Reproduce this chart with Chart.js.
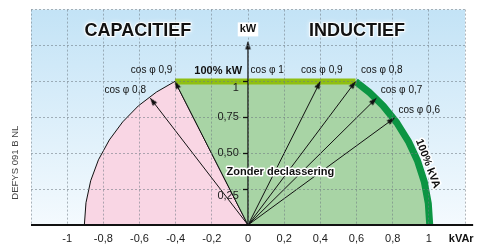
<!DOCTYPE html>
<html><head><meta charset="utf-8">
<script src="https://cdn.jsdelivr.net/npm/chart.js@4/dist/chart.umd.min.js"></script>
<style>html,body{margin:0;padding:0;background:#fff}#wrap{width:479px;height:244px}</style>
</head><body><div id="wrap"><canvas id="c" width="479" height="244"></canvas></div>
<script>
// ---------- data ----------
const kvarTicks = [-1, -0.8, -0.6, -0.4, -0.2, 0, 0.2, 0.4, 0.6, 0.8, 1];
const kvarTickLabels = ['-1', '-0,8', '-0,6', '-0,4', '-0,2', '0', '0,2', '0,4', '0,6', '0,8', '1'];
const kwTicks = [0.25, 0.5, 0.75, 1];
const kwTickLabels = ['0,25', '0,50', '0,75', '1'];

// capacitive limit curve (pink zone), from x-axis up to the 100% kW line
const capArcKvar = [-0.905, -0.896, -0.870, -0.827, -0.767, -0.693, -0.606, -0.506, -0.404];
const capArcKw   = [0, 0.155, 0.308, 0.454, 0.592, 0.718, 0.830, 0.926, 1.0];
// 100% kVA curve, from the 100% kW line down to the x-axis
const kvaArcKvar = [0.595, 0.672, 0.747, 0.823, 0.887, 0.938, 0.975, 0.997, 1.005];
const kvaArcKw   = [1.0, 0.922, 0.830, 0.712, 0.583, 0.445, 0.300, 0.151, 0];
// 100% kW line
const kwLineKvar = [-0.404, 0.595];
const kwLineKw   = [1.0, 1.0];
// cos phi rays (end points)
const cosPhiLabels  = ['cos φ 0,9', 'cos φ 0,8', 'cos φ 0,9', 'cos φ 0,8', 'cos φ 0,7', 'cos φ 0,6'];
const cosPhiEndKvar = [-0.404, -0.540, 0.400, 0.595, 0.710, 0.810];
const cosPhiEndKw   = [1.0, 0.883, 1.0, 1.0, 0.883, 0.745];
// axes extent
const kwAxisTop = 1.276;
const kvarAxisEnd = 1.245;

// ---------- drawing ----------
const FONT = '"Liberation Sans", Arial, Helvetica, sans-serif';
const GRID = 'rgba(110,120,130,0.55)';
const pts = (xs, ys) => xs.map((x, i) => ({x: x, y: ys[i]}));

const arrowHead = (() => {
  const c = document.createElement('canvas');
  c.width = 9; c.height = 18;
  const g = c.getContext('2d');
  g.fillStyle = '#111';
  g.beginPath(); g.moveTo(4.5, 9); g.lineTo(7.3, 16.5); g.lineTo(1.7, 16.5); g.closePath(); g.fill();
  return c;
})();

function rayAngle(c) {
  const d = c.dataset.data, s = c.chart.scales;
  const p0 = d[0], p1 = d[d.length - 1];
  const dx = s.x.getPixelForValue(p1.x) - s.x.getPixelForValue(p0.x);
  const dy = s.y.getPixelForValue(p1.y) - s.y.getPixelForValue(p0.y);
  return Math.atan2(dx, -dy) * 180 / Math.PI;
}
function arrowLine(data, width, extra) {
  return Object.assign({
    data: data, showLine: true, fill: false, borderColor: '#111', borderWidth: width,
    pointStyle: arrowHead, rotation: rayAngle,
    pointRadius: c => (c.dataIndex === c.dataset.data.length - 1 ? 6 : 0),
    pointHoverRadius: 0, order: 1
  }, extra || {});
}

const datasets = [];
// axes with arrows
datasets.push(arrowLine([{x: -1.2, y: 0}, {x: kvarAxisEnd, y: 0}], 2, {clip: false, order: 0}));
datasets.push(arrowLine([{x: 0, y: 0}, {x: 0, y: kwAxisTop}], 1.3, {order: 0}));
// cos phi rays
cosPhiEndKvar.forEach((x, i) => {
  datasets.push(arrowLine([{x: 0, y: 0}, {x: x, y: cosPhiEndKw[i]}], 1, {label: cosPhiLabels[i]}));
});
// 100% kW line and 100% kVA curve
datasets.push({data: pts(kwLineKvar, kwLineKw), showLine: true, borderColor: '#8fbf12', borderWidth: 6,
  borderCapStyle: 'butt', pointRadius: 0, order: 2});
datasets.push({data: pts(kvaArcKvar, kvaArcKw), showLine: true, borderColor: '#0c9543', borderWidth: 7,
  borderCapStyle: 'butt', borderJoinStyle: 'round', pointRadius: 0, order: 2});
// green zone
datasets.push({data: [{x: 0, y: 0}, {x: kwLineKvar[0], y: kwLineKw[0]}].concat(pts(kvaArcKvar, kvaArcKw), [{x: 0, y: 0}]),
  showLine: true, borderWidth: 0, borderColor: 'rgba(0,0,0,0)', backgroundColor: '#a8d4a5', fill: 'shape', pointRadius: 0, order: 3});
// pink zone
datasets.push({data: [{x: 0, y: 0}].concat(pts(capArcKvar, capArcKw), [{x: 0, y: 0}]),
  showLine: true, borderWidth: 1, borderColor: '#111', backgroundColor: '#f9d6e4', fill: 'shape', pointRadius: 0, order: 4});

const texts = [
  {t: 'CAPACITIEF', x: -0.609, y: 1.352, f: 'bold 18px', glow: true},
  {t: 'INDUCTIEF', x: 0.603, y: 1.352, f: 'bold 18px', glow: true},
  {t: 'kW', x: 0, y: 1.362, f: 'bold 11px', box: true},
  {t: '100% kW', x: -0.165, y: 1.076, f: 'bold 11px'},
  {t: 'cos φ 1', x: 0.106, y: 1.076, f: '10px'},
  {t: cosPhiLabels[0], x: -0.533, y: 1.076, f: '10px'},
  {t: cosPhiLabels[1], x: -0.679, y: 0.938, f: '10px'},
  {t: cosPhiLabels[2], x: 0.408, y: 1.076, f: '10px'},
  {t: cosPhiLabels[3], x: 0.740, y: 1.076, f: '10px'},
  {t: cosPhiLabels[4], x: 0.849, y: 0.938, f: '10px'},
  {t: cosPhiLabels[5], x: 0.947, y: 0.800, f: '10px'},
  {t: 'Zonder declassering', x: 0.179, y: 0.372, f: 'bold 11px', halo: true},
  {t: '100% kVA', x: 0.994, y: 0.428, f: 'bold 11px', rot: 69, halo: true},
  {t: 'kVAr', x: 1.179, y: -0.097, f: 'bold 11px'},
  {t: 'DEFYS 091 B NL', x: -1.285, y: 0.434, f: '9.5px', rot: -90, color: '#444'}
];

const decor = {
  id: 'decor',
  beforeDraw(chart) {
    const {ctx, chartArea: a} = chart;
    const g = ctx.createLinearGradient(0, a.top, 0, a.bottom);
    g.addColorStop(0, '#c3e3f6');
    g.addColorStop(1, '#f4fafe');
    ctx.save(); ctx.fillStyle = g;
    ctx.fillRect(a.left, a.top, a.right - a.left, a.bottom - a.top);
    ctx.restore();
  },
  afterDraw(chart) {
    const {ctx, scales} = chart;
    texts.forEach(o => {
      const px = scales.x.getPixelForValue(o.x), py = scales.y.getPixelForValue(o.y);
      ctx.save();
      ctx.translate(px, py);
      if (o.rot) ctx.rotate(o.rot * Math.PI / 180);
      ctx.font = o.f + ' ' + FONT;
      ctx.textAlign = 'center'; ctx.textBaseline = 'middle';
      if (o.box) {
        const w = ctx.measureText(o.t).width + 4;
        ctx.fillStyle = '#fff'; ctx.fillRect(-w / 2, -7, w, 14);
      }
      if (o.glow) {
        ctx.shadowColor = 'rgba(255,255,255,0.95)'; ctx.shadowBlur = 4;
        ctx.strokeStyle = 'rgba(255,255,255,0.8)'; ctx.lineWidth = 2; ctx.lineJoin = 'round';
        ctx.strokeText(o.t, 0, 0);
        ctx.shadowBlur = 0;
      }
      if (o.halo) {
        ctx.strokeStyle = '#fff'; ctx.lineWidth = 3; ctx.lineJoin = 'round';
        ctx.strokeText(o.t, 0, 0);
      }
      ctx.fillStyle = o.color || '#111';
      ctx.fillText(o.t, 0, 0);
      ctx.restore();
    });
  }
};

const lookup = (vals, labs, v) => { const i = vals.findIndex(t => Math.abs(t - v) < 1e-6); return i < 0 ? '' : labs[i]; };
// labels of an axis placed at x = 0 are right-aligned on the axis itself: pad them with trailing spaces
const kwLabel = v => {
  const l = lookup(kwTicks, kwTickLabels, v);
  if (!l) return '';
  const padded = l + '   ';
  return (l === '1' || l === '0,25') ? ['', padded] : padded;
};

new Chart(document.getElementById('c'), {
  type: 'scatter',
  data: {datasets: datasets},
  options: {
    responsive: false, animation: false, events: [],
    layout: {padding: {left: 31, right: 14, top: 7, bottom: 0}},
    plugins: {legend: {display: false}, tooltip: {enabled: false}},
    scales: {
      x: {
        type: 'linear', position: 'bottom', min: -1.2, max: 1.2,
        afterFit: s => { s.height = 19; },
        ticks: {z: 2, stepSize: 0.2, padding: 7, color: '#1a1a1a', font: {family: FONT, size: 11},
          callback: v => lookup(kvarTicks, kvarTickLabels, v)},
        grid: {z: 1, color: GRID, lineWidth: 1, drawTicks: false},
        border: {display: false, dash: [2, 2]}
      },
      y: {
        type: 'linear', position: {x: 0}, min: 0, max: 1.5,
        ticks: {z: 2, stepSize: 0.25, padding: 3, color: '#1a1a1a', font: {family: FONT, size: 11},
          callback: kwLabel},
        grid: {z: 1, color: c => (c.tick && c.tick.value === 0 ? 'rgba(0,0,0,0)' : GRID), lineWidth: 1,
          drawTicks: true, tickLength: 5, tickWidth: 1.3,
          tickColor: c => (c.tick && kwTicks.some(t => Math.abs(t - c.tick.value) < 1e-6) ? '#111' : 'rgba(0,0,0,0)')},
        border: {display: false, dash: [2, 2]}
      }
    }
  },
  plugins: [decor]
});
</script></body></html>
